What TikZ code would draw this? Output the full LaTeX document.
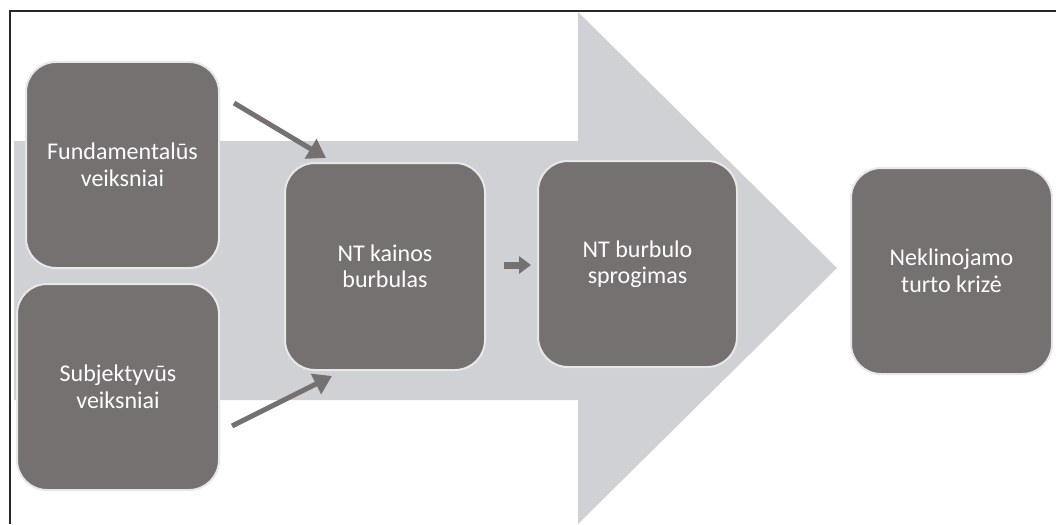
\documentclass[tikz,border=0pt]{standalone}
\usepackage{fontspec}
\setmainfont{Carlito}
\usetikzlibrary{arrows.meta,calc}
\definecolor{bandgray}{RGB}{208,209,212}
\definecolor{boxgray}{RGB}{118,113,113}
\definecolor{boxedge}{RGB}{232,232,232}
\definecolor{framecol}{RGB}{40,40,40}
\tikzset{
  stepbox/.style={draw=boxedge, line width=2pt, fill=boxgray, rounded corners=30pt,
    text=white, align=center, inner sep=0pt,
    font=\fontsize{24}{26.5}\selectfont, minimum height=206pt},
  bigconn/.style={draw=boxgray, line width=5pt, -{Triangle[length=18pt,width=22pt]}},
  smallconn/.style={draw=boxgray, line width=7pt, -{Triangle[length=12pt,width=17pt]}}
}
\begin{document}
\begin{tikzpicture}[x=1pt,y=-1pt]
\useasboundingbox (0,0) rectangle (1056,524);
% frame
\draw[framecol, line width=1.3pt] (10,524) -- (10,11) -- (1056,11);
% big background arrow
\fill[bandgray] (14,141) -- (578,141) -- (578,12) -- (837,268) -- (578,524) -- (578,400) -- (14,400) -- cycle;
% boxes
\node[stepbox, minimum width=193pt] (fund) at (122.5,165) {Fundamentalūs\\veiksniai};
\node[stepbox, minimum width=202pt] (subj) at (118,387) {Subjektyvūs\\veiksniai};
\node[stepbox, minimum width=200pt, minimum height=207pt] (kainos) at (385,266.5) {NT kainos\\burbulas};
\node[stepbox, minimum width=199pt] (burb) at (637.5,264) {NT burbulo\\sprogimas};
\node[stepbox, minimum width=201pt] (krize) at (951.5,271) {Neklinojamo\\turto krizė};
% connectors
\draw[bigconn] ($(fund.north east)+(14,42)$) -- ($(kainos.north west)+(42,-4)$);
\draw[bigconn] ($(subj.east)+(12,39)$) -- ($(kainos.south west)+(48,5)$);
\draw[smallconn] ($(kainos.east)+(18,-1.5)$) -- ($(burb.west)+(-6,1)$);
\end{tikzpicture}
\end{document}
